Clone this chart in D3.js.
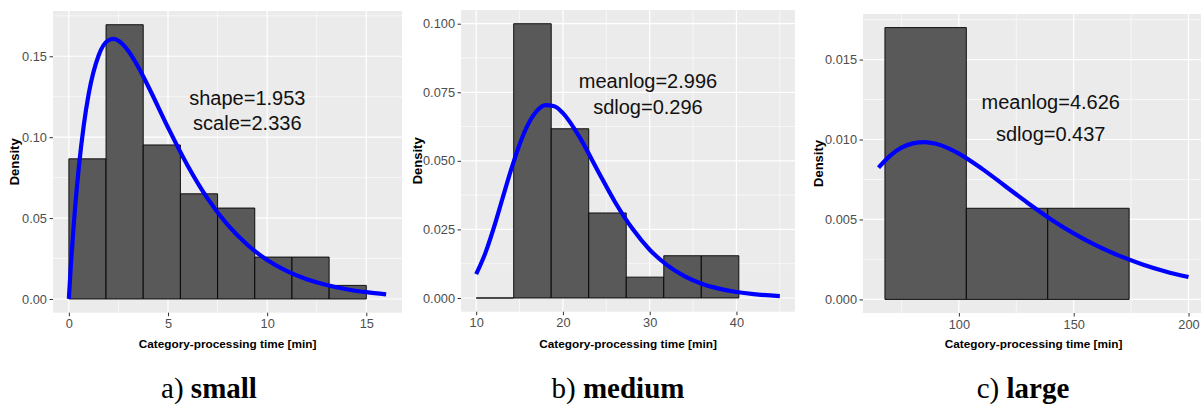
<!DOCTYPE html>
<html>
<head>
<meta charset="utf-8">
<script src="https://cdn.jsdelivr.net/npm/d3@7"></script>
<style>
  body { margin: 0; background: #ffffff; }
  svg { display: block; }
  .tick-label { font-family: "Liberation Sans", Arial, sans-serif; font-size: 12.8px; fill: #4d4d4d; }
  .axis-title { font-family: "Liberation Sans", Arial, sans-serif; font-weight: bold; fill: #000000; }
  .fit-label { font-family: "Liberation Sans", Arial, sans-serif; font-size: 20px; fill: #111111; }
  .caption { font-family: "Liberation Serif", "Times New Roman", serif; font-size: 29px; fill: #000000; }
</style>
</head>
<body>
<div class="chart"></div>
<script>
// ---- data ----
var smallBinEdges = [0, 1.875, 3.75, 5.625, 7.5, 9.375, 11.25, 13.125, 15];
var smallDensity = [0.0866, 0.1695, 0.0952, 0.0650, 0.0562, 0.0259, 0.0259, 0.0084];
var smallCurveX = [0, 0.1, 0.25, 0.5, 0.75, 1, 1.5, 2, 2.25, 2.5, 3, 3.5, 4, 5, 6, 7, 8, 9, 10, 11, 12, 13, 14, 15, 16];
var smallCurveY = [0, 0.0207, 0.0466, 0.0811, 0.1072, 0.1267, 0.1505, 0.1599, 0.1607, 0.1596, 0.1533, 0.1434, 0.1315, 0.1060, 0.0822, 0.0620, 0.0459, 0.0335, 0.0241, 0.0172, 0.0122, 0.0086, 0.0060, 0.0042, 0.0029];
var smallXTicks = [0, 5, 10, 15];
var smallYTicks = [0, 0.05, 0.10, 0.15];
var smallFit = ["shape=1.953", "scale=2.336"];

var mediumBinEdges = [10, 14.325, 18.65, 22.975, 27.3, 31.625, 35.95, 40.275];
var mediumDensity = [0, 0.1000, 0.0617, 0.0310, 0.0076, 0.0154, 0.0154];
var mediumCurveX = [10, 11, 12, 13, 14, 15, 16, 17, 18, 19, 20, 22, 24, 26, 28, 30, 32, 34, 36, 38, 40, 42, 45];
var mediumCurveY = [0.0087, 0.0159, 0.0253, 0.0359, 0.0465, 0.0560, 0.0634, 0.0682, 0.0703, 0.0699, 0.0674, 0.0582, 0.0465, 0.0350, 0.0253, 0.0176, 0.0120, 0.0080, 0.0052, 0.0034, 0.0022, 0.0014, 0.0007];
var mediumXTicks = [10, 20, 30, 40];
var mediumYTicks = [0, 0.025, 0.05, 0.075, 0.1];
var mediumFit = ["meanlog=2.996", "sdlog=0.296"];

var largeBinEdges = [67.8, 103.25, 138.7, 174.15];
var largeDensity = [0.0170, 0.0057, 0.0057];
var largeCurveX = [65, 70, 75, 80, 85, 90, 95, 100, 110, 120, 130, 140, 150, 160, 170, 180, 190, 200];
var largeCurveY = [0.00824, 0.00898, 0.00949, 0.00976, 0.00984, 0.00973, 0.00948, 0.00912, 0.00818, 0.00711, 0.00603, 0.00502, 0.00413, 0.00336, 0.00272, 0.00219, 0.00175, 0.00140];
var largeXTicks = [100, 150, 200];
var largeYTicks = [0, 0.005, 0.010, 0.015];
var largeFit = ["meanlog=4.626", "sdlog=0.437"];

var xTitle = "Category-processing time [min]";
var yTitle = "Density";
var captionLetters = ["a) ", "b) ", "c) "];
var captionWords = ["small", "medium", "large"];

// ---- layout ----
var svg = d3.select(".chart").append("svg")
  .attr("width", 1201)
  .attr("height", 408);

var panels = [
  { edges: smallBinEdges, dens: smallDensity, cx: smallCurveX, cy: smallCurveY,
    xt: smallXTicks, yt: smallYTicks, yfmt: ".2f", fit: smallFit,
    box: [53, 11, 402, 312.7], fitPos: [9, 0.1164], lineGap: 24.7,
    yTitleX: 18.5, captionX: 209 },
  { edges: mediumBinEdges, dens: mediumDensity, cx: mediumCurveX, cy: mediumCurveY,
    xt: mediumXTicks, yt: mediumYTicks, yfmt: ".3f", fit: mediumFit,
    box: [461, 10, 795, 311.7], fitPos: [29.8, 0.0744], lineGap: 26.7,
    yTitleX: 422, captionX: 618 },
  { edges: largeBinEdges, dens: largeDensity, cx: largeCurveX, cy: largeCurveY,
    xt: largeXTicks, yt: largeYTicks, yfmt: ".3f", fit: largeFit,
    box: [863, 14, 1204, 313], fitPos: [140, 0.01136], lineGap: 32,
    yTitleX: 823, captionX: 1023 }
];

function expand(lo, hi) {
  var pad = (hi - lo) * 0.05;
  return [lo - pad, hi + pad];
}

function minorBetween(ticks, domain) {
  var step = ticks[1] - ticks[0];
  var out = [];
  for (var v = ticks[0] - step / 2; v <= domain[1]; v += step) {
    if (v >= domain[0]) out.push(v);
  }
  return out;
}

function drawPanel(p, i) {
  var left = p.box[0], top = p.box[1], right = p.box[2], bottom = p.box[3];
  var bins = p.dens.map(function(d, k) { return { x0: p.edges[k], x1: p.edges[k + 1], y: d }; });
  var curve = p.cx.map(function(x, k) { return { x: x, y: p.cy[k] }; });

  var xLo = Math.min(d3.min(p.edges), d3.min(p.cx));
  var xHi = Math.max(d3.max(p.edges), d3.max(p.cx));
  var yHi = Math.max(d3.max(p.dens), d3.max(p.cy));
  var x = d3.scaleLinear().domain(expand(xLo, xHi)).range([left, right]);
  var y = d3.scaleLinear().domain(expand(0, yHi)).range([bottom, top]);

  var g = svg.append("g");
  var clipId = "clip" + i;
  svg.append("clipPath").attr("id", clipId)
    .append("rect").attr("x", left).attr("y", top).attr("width", right - left).attr("height", bottom - top);

  g.append("rect")
    .attr("x", left).attr("y", top)
    .attr("width", right - left).attr("height", bottom - top)
    .attr("fill", "#ebebeb");

  var grid = g.append("g").attr("clip-path", "url(#" + clipId + ")");
  grid.selectAll(".vminor").data(minorBetween(p.xt, x.domain())).enter().append("line")
    .attr("x1", function(d) { return x(d); }).attr("x2", function(d) { return x(d); })
    .attr("y1", top).attr("y2", bottom)
    .attr("stroke", "#ffffff").attr("stroke-width", 0.6);
  grid.selectAll(".hminor").data(minorBetween(p.yt, y.domain())).enter().append("line")
    .attr("y1", function(d) { return y(d); }).attr("y2", function(d) { return y(d); })
    .attr("x1", left).attr("x2", right)
    .attr("stroke", "#ffffff").attr("stroke-width", 0.6);
  grid.selectAll(".vmajor").data(p.xt).enter().append("line")
    .attr("x1", function(d) { return x(d); }).attr("x2", function(d) { return x(d); })
    .attr("y1", top).attr("y2", bottom)
    .attr("stroke", "#ffffff").attr("stroke-width", 1.2);
  grid.selectAll(".hmajor").data(p.yt).enter().append("line")
    .attr("y1", function(d) { return y(d); }).attr("y2", function(d) { return y(d); })
    .attr("x1", left).attr("x2", right)
    .attr("stroke", "#ffffff").attr("stroke-width", 1.2);

  // bars as closed paths so an empty bin still shows its base line
  var marks = g.append("g").attr("clip-path", "url(#" + clipId + ")");
  marks.selectAll("path.bar").data(bins).enter().append("path")
    .attr("class", "bar")
    .attr("d", function(d) {
      return "M" + x(d.x0) + "," + y(0) + "V" + y(d.y) + "H" + x(d.x1) + "V" + y(0) + "Z";
    })
    .attr("fill", "#595959")
    .attr("stroke", "#000000")
    .attr("stroke-width", 0.9);

  var line = d3.line()
    .x(function(d) { return x(d.x); })
    .y(function(d) { return y(d.y); })
    .curve(d3.curveMonotoneX);
  marks.append("path").datum(curve)
    .attr("d", line)
    .attr("fill", "none")
    .attr("stroke", "#0000ff")
    .attr("stroke-width", 4.2)
    .attr("stroke-linejoin", "round");

  // fit parameters
  var fit = g.append("text").attr("class", "fit-label")
    .attr("text-anchor", "middle");
  fit.selectAll("tspan").data(p.fit).enter().append("tspan")
    .attr("x", x(p.fitPos[0]))
    .attr("y", function(d, k) { return y(p.fitPos[1]) - p.lineGap / 2 + 7 + k * p.lineGap; })
    .text(function(d) { return d; });

  // axes
  var xAxis = d3.axisBottom(x).tickValues(p.xt).tickSize(3.5).tickPadding(3).tickFormat(d3.format("d"));
  var gx = g.append("g").attr("transform", "translate(0," + bottom + ")").call(xAxis);
  gx.select(".domain").remove();
  gx.selectAll(".tick line").attr("stroke", "#333333");
  gx.selectAll(".tick text").attr("class", "tick-label").attr("font-size", null).attr("font-family", null).attr("fill", null);

  var yAxis = d3.axisLeft(y).tickValues(p.yt).tickSize(3.5).tickPadding(2.5).tickFormat(d3.format(p.yfmt));
  var gy = g.append("g").attr("transform", "translate(" + left + ",0)").call(yAxis);
  gy.select(".domain").remove();
  gy.selectAll(".tick line").attr("stroke", "#333333");
  gy.selectAll(".tick text").attr("class", "tick-label").attr("font-size", null).attr("font-family", null).attr("fill", null);

  g.append("text").attr("class", "axis-title")
    .attr("x", (left + right) / 2)
    .attr("y", 348)
    .attr("text-anchor", "middle")
    .style("font-size", "11.8px")
    .text(xTitle);

  g.append("text").attr("class", "axis-title")
    .attr("transform", "translate(" + p.yTitleX + "," + (top + bottom) / 2 + ") rotate(-90)")
    .attr("text-anchor", "middle")
    .style("font-size", "13px")
    .text(yTitle);

  var cap = svg.append("text").attr("class", "caption")
    .attr("x", p.captionX).attr("y", 398)
    .attr("text-anchor", "middle");
  cap.append("tspan").text(captionLetters[i]);
  cap.append("tspan").attr("font-weight", "bold").text(captionWords[i]);
}

panels.forEach(drawPanel);
</script>
</body>
</html>
